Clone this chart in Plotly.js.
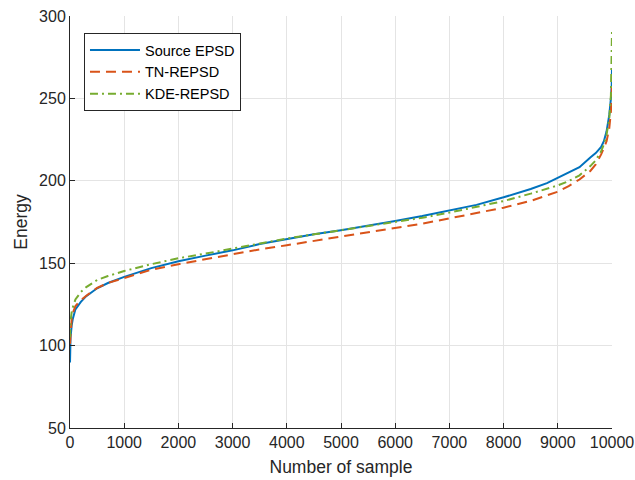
<!DOCTYPE html>
<html>
<head>
<meta charset="utf-8">
<script src="https://cdn.plot.ly/plotly-3.0.1.min.js"></script>
<style>
  html, body { margin: 0; padding: 0; background: #ffffff; }
  #chart { width: 635px; height: 480px; }
</style>
</head>
<body>
<div id="chart"></div>
<script>
// Sample index (sorted samples)
const sampleIdx = [0, 10, 30, 50, 100, 200, 300, 500, 700, 1000, 1500, 2000, 2500, 3000, 3500, 4000, 4500, 5000, 5500, 6000, 6500, 7000, 7500, 8000, 8500, 8800, 9000, 9200, 9400, 9600, 9700, 9800, 9850, 9900, 9950, 9980, 9995, 10000];

// Source EPSD
const sourceEPSD = [89.8, 105, 112, 116, 122, 126.5, 130, 134.8, 138, 141.7, 147, 151.2, 154.6, 157.8, 161.6, 164.7, 167.5, 170, 172.7, 175.6, 178.6, 182.2, 185.4, 190, 195, 198.6, 201.8, 205, 208.3, 214.2, 216.8, 220.5, 224, 230, 240, 250, 258, 268.5];

// TN-REPSD
const tnREPSD = [101, 110, 116, 119.5, 124, 127.5, 130.3, 135, 138, 141, 146, 149.4, 152.4, 155.6, 158.4, 160.9, 163.5, 165.9, 168.5, 171.2, 174, 177.2, 180.3, 183.7, 187.8, 191, 193.4, 196.8, 200.8, 206, 209.9, 216, 219.5, 224, 232, 242, 252, 262];

// KDE-REPSD
const kdeREPSD = [105, 115, 120, 123, 128, 132.5, 135.5, 139.8, 142.2, 145.3, 149.4, 153, 155.8, 158.8, 162, 165, 167.5, 170, 172.2, 174.8, 177.6, 180.7, 184.1, 187.7, 192.2, 195.2, 197.2, 199.8, 203.3, 208.9, 212.4, 218, 222, 228, 238, 252, 270, 290.7];

const seriesNames = ["Source EPSD", "TN-REPSD", "KDE-REPSD"];
const xTicks = [0, 1000, 2000, 3000, 4000, 5000, 6000, 7000, 8000, 9000, 10000];
const yTicks = [50, 100, 150, 200, 250, 300];

const axisColor = "#262626";
const gridColor = "#e4e4e4";
const fontFam = "Liberation Sans, Arial, Helvetica, sans-serif";

const traces = [
  { x: sampleIdx, y: sourceEPSD, name: seriesNames[0], mode: "lines",
    line: { color: "#0072BD", width: 2, dash: "solid" } },
  { x: sampleIdx, y: tnREPSD, name: seriesNames[1], mode: "lines",
    line: { color: "#D95319", width: 2, dash: "10px,6px" } },
  { x: sampleIdx, y: kdeREPSD, name: seriesNames[2], mode: "lines",
    line: { color: "#77AC30", width: 2, dash: "8px,4px,2px,4px" } }
];

const layout = {
  width: 635, height: 480,
  margin: { l: 70, r: 23, t: 16, b: 52 },
  paper_bgcolor: "#ffffff",
  plot_bgcolor: "#ffffff",
  font: { family: fontFam, color: axisColor, size: 16 },
  showlegend: true,
  legend: {
    x: 0.0258, y: 0.9587, xanchor: "left", yanchor: "top",
    bgcolor: "#ffffff", bordercolor: axisColor, borderwidth: 1,
    font: { family: fontFam, size: 14.5, color: "#000000" },
    itemwidth: 50, tracegroupgap: 0
  },
  xaxis: {
    range: [0, 10000], tickvals: xTicks, ticktext: xTicks.map(String),
    ticks: "inside", ticklen: 5, tickcolor: axisColor, tickwidth: 1,
    showline: true, linecolor: axisColor, linewidth: 1, mirror: false,
    showgrid: true, gridcolor: gridColor, gridwidth: 1, zeroline: false,
    tickfont: { family: fontFam, size: 16, color: axisColor },
    title: { text: "Number of sample", font: { family: fontFam, size: 17.5, color: axisColor }, standoff: 10 }
  },
  yaxis: {
    range: [50, 300], tickvals: yTicks, ticktext: yTicks.map(String),
    ticks: "inside", ticklen: 5, tickcolor: axisColor, tickwidth: 1,
    showline: true, linecolor: axisColor, linewidth: 1, mirror: false,
    showgrid: true, gridcolor: gridColor, gridwidth: 1, zeroline: false,
    tickfont: { family: fontFam, size: 16, color: axisColor },
    title: { text: "Energy", font: { family: fontFam, size: 17.5, color: axisColor }, standoff: 6 }
  }
};

Plotly.newPlot("chart", traces, layout, { staticPlot: true, displayModeBar: false });
</script>
</body>
</html>
